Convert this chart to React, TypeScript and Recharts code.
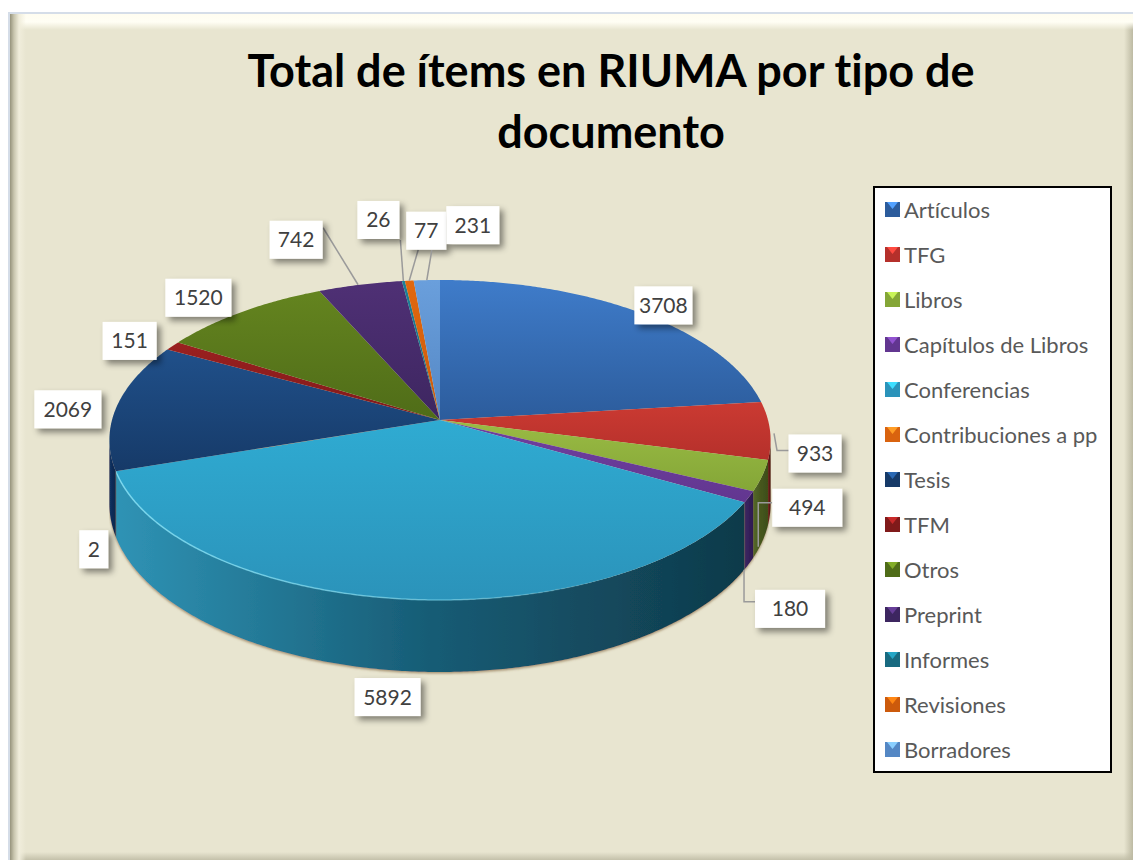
import { PieChart, Pie, Legend } from 'recharts';

const categories = ['Artículos', 'TFG', 'Libros', 'Capítulos de Libros', 'Conferencias', 'Contribuciones a pp', 'Tesis', 'TFM', 'Otros', 'Preprint', 'Informes', 'Revisiones', 'Borradores'];
const values = [3708, 933, 494, 180, 5892, 2, 2069, 151, 1520, 742, 26, 77, 231];

// top face gradient (back -> front), side wall gradient (left -> right)
const topLight = ['#3f7cca', '#cb3a32', '#9abb44', '#7040a0', '#2fabd2', '#e8791d', '#20508a', '#9a2020', '#64841f', '#4f3075', '#1c8098', '#e0680f', '#6a9fdc'];
const topDark = ['#2c5c9c', '#b5302b', '#84a637', '#623690', '#2b93ba', '#d9630f', '#163a68', '#801a1a', '#4f6c18', '#3d2660', '#186a80', '#cc5a0c', '#5487c4'];
const wallLight = ['#1d3d68', '#6e1d1a', '#55692a', '#3c2464', '#2f93b5', '#8a4410', '#133463', '#5a1212', '#3a4c10', '#2a1a44', '#10505f', '#8a4410', '#2f5a8c'];
const wallMid = ['#1d3d68', '#5e1916', '#46571e', '#35205a', '#175c75', '#8a4410', '#0f2c56', '#5a1212', '#3a4c10', '#2a1a44', '#10505f', '#8a4410', '#2f5a8c'];
const wallDark = ['#1d3d68', '#4e1512', '#3e4d18', '#2e1b50', '#0f3a4a', '#8a4410', '#0d2749', '#5a1212', '#3a4c10', '#2a1a44', '#10505f', '#8a4410', '#2f5a8c'];

// label box: offset of its centre from the slice's outer edge, and width
const labelDx = [24, 45, 45, 41, -16, -22, -49, -43, -44, -64, -25, 17, 46];
const labelDy = [-7, 23, 32, 112, 98, 78, 3, -5, -14, -45, -61, -50, -55];
const labelWidth = [58, 53, 70, 70, 66, 29, 67, 54, 66, 53, 42, 40, 53];

// leader lines, relative to the same edge point
const leaders: (number[][] | null)[] = [
  null,
  [[4, 3], [7, 20], [19, 20]],
  [[-4, 71], [-4, 27], [10, 27]],
  [[-5, 73], [-5, 105], [6, 105]],
  null,
  null,
  null,
  null,
  null,
  [[-2, 0], [-37, -57]],
  [[0, 0], [-3, -41]],
  [[0, 0], [9, -31]],
  [[0, 0], [5, -30]],
];

const data = categories.map((name, i) => ({ name, value: values[i], fill: topLight[i] }));

const FONT = 'Lato, sans-serif';
const K = 0.125; // perspective
const TILT = 157.5 / 328;
const DEPTH = 63;

// theta: degrees clockwise from the top of the pie
function project(cx: number, cy: number, r: number, theta: number) {
  const a = (theta * Math.PI) / 180;
  const u = Math.sin(a);
  const v = Math.cos(a);
  const w = 1 / (1 + K * v);
  return { x: cx + r * u * w, y: cy - r * TILT * v * w, w };
}

function arcPoints(cx: number, cy: number, r: number, from: number, to: number) {
  const n = Math.max(2, Math.ceil((to - from) * 2));
  const pts = [];
  for (let i = 0; i <= n; i++) pts.push(project(cx, cy, r, from + ((to - from) * i) / n));
  return pts;
}

const toPath = (pts: { x: number; y: number }[]) =>
  pts.map((p, i) => `${i ? 'L' : 'M'}${p.x.toFixed(2)} ${p.y.toFixed(2)}`).join(' ');

function Slice3D(props: any) {
  const { cx, cy, outerRadius, startAngle, endAngle, index } = props;
  const from = 90 - startAngle;
  const to = 90 - endAngle;
  const edge = arcPoints(cx, cy, outerRadius, from, to);
  const top = `M${cx} ${cy} ${toPath(edge).replace('M', 'L')} Z`;

  // only the front part of the rim has a visible wall
  const wallFrom = Math.max(from, 97.2);
  const wallTo = Math.min(to, 262.8);
  let wall = null;
  if (wallTo > wallFrom) {
    const upper = arcPoints(cx, cy, outerRadius, wallFrom, wallTo);
    const lower = upper.map(p => ({ x: p.x, y: p.y + DEPTH * p.w })).reverse();
    wall = <path d={`${toPath(upper)} ${toPath(lower).replace('M', 'L')} Z`} fill={`url(#wall${index})`} filter="url(#wallShadow)" />;
  }

  return (
    <g>
      {wall}
      <path d={top} fill={`url(#top${index})`} />
      {index === 4 && <path d={toPath(edge)} fill="none" stroke="url(#rim)" strokeWidth={1.5} />}
    </g>
  );
}

function renderLabel(props: any) {
  const { cx, cy, outerRadius, midAngle, index, value } = props;
  const p = project(cx, cy, outerRadius, 90 - midAngle);
  const bx = p.x + labelDx[index];
  const by = p.y + labelDy[index];
  const w = labelWidth[index];
  const line = leaders[index];
  return (
    <g key={index}>
      {line && (
        <polyline
          points={line.map(o => `${p.x + o[0]},${p.y + o[1]}`).join(' ')}
          fill="none"
          stroke="#9a9a9a"
          strokeWidth={1.5}
        />
      )}
      <rect x={bx - w / 2} y={by - 19} width={w} height={38} fill="#fff" filter="url(#boxShadow)" />
      <text x={bx} y={by + 7.5} textAnchor="middle" fontFamily={FONT} fontSize={21} fill="#404040">
        {value}
      </text>
    </g>
  );
}

function renderLegend() {
  return (
    <div style={{ boxSizing: 'border-box', width: 239, height: 587, background: '#fff', border: '2px solid #000' }}>
      {categories.map((name, i) => (
        <div key={name} style={{ position: 'absolute', left: 12, top: 23 + i * 45 - 15, height: 30, display: 'flex', alignItems: 'center' }}>
          <svg width={15} height={15} style={{ marginRight: 4, marginTop: 1 }}>
            <rect width={15} height={15} fill={topDark[i]} />
            <polygon points="2,0 13,0 7.5,7" fill={topLight[i]} style={{ filter: 'brightness(1.3)' }} />
          </svg>
          <span style={{ fontFamily: FONT, fontSize: 22, color: '#595959', whiteSpace: 'nowrap', fontVariantLigatures: 'none' }}>{name}</span>
        </div>
      ))}
    </div>
  );
}

export default function App() {
  return (
    <div style={{ position: 'absolute', left: 0, top: 0, width: 1133, height: 860, overflow: 'hidden', background: '#fff' }}>
      <div
        style={{
          position: 'absolute',
          left: 8,
          top: 12,
          width: 1125,
          height: 848,
          boxSizing: 'border-box',
          borderLeft: '2px solid #d5dde8',
          borderTop: '2px solid #d5dde8',
          background:
            'linear-gradient(to right, #96937c 0, #c8c5ae 4px, #f0eddb 9px, rgba(232,229,208,0) 16px),' +
            'linear-gradient(to bottom, #fffdf0 0, #fffef4 8px, rgba(232,229,208,0) 16px),' +
            'linear-gradient(to left, #bdbaa3 0, rgba(232,229,208,0) 9px),' +
            'linear-gradient(to top, #c4c1aa 0, rgba(232,229,208,0) 8px),' +
            '#e8e5d0',
        }}
      />
      <div style={{ position: 'absolute', left: 0, top: 0 }}>
        <PieChart width={1133} height={860} margin={{ top: 0, right: 0, bottom: 0, left: 0 }}>
          <defs>
            {categories.map((_, i) => (
              <linearGradient key={`t${i}`} id={`top${i}`} x1="0" y1="0" x2="0" y2="1">
                <stop offset="0" stopColor={topLight[i]} />
                <stop offset="1" stopColor={topDark[i]} />
              </linearGradient>
            ))}
            {categories.map((_, i) => (
              <linearGradient key={`w${i}`} id={`wall${i}`} x1="0" y1="0" x2="1" y2="0">
                <stop offset="0" stopColor={wallLight[i]} />
                <stop offset="0.5" stopColor={wallMid[i]} />
                <stop offset="1" stopColor={wallDark[i]} />
              </linearGradient>
            ))}
            <linearGradient id="rim" x1="0" y1="0" x2="1" y2="0">
              <stop offset="0" stopColor="#7fdcf2" stopOpacity={0.9} />
              <stop offset="0.55" stopColor="#7fdcf2" stopOpacity={0.5} />
              <stop offset="0.8" stopColor="#7fdcf2" stopOpacity={0} />
            </linearGradient>
            <filter id="boxShadow" x="-30%" y="-30%" width="170%" height="170%">
              <feDropShadow dx={4} dy={4} stdDeviation={3} floodColor="#000" floodOpacity={0.45} />
            </filter>
            <filter id="wallShadow" x="-5%" y="-5%" width="110%" height="115%">
              <feDropShadow dx={0} dy={1.5} stdDeviation={1.2} floodColor="#7a5a30" floodOpacity={0.6} />
            </filter>
          </defs>
          <text textAnchor="middle" fontFamily={FONT} fontWeight={700} fontSize={45} fill="#000" style={{ fontVariantLigatures: 'none' }}>
            <tspan x={611} y={87}>Total de ítems en RIUMA por tipo de</tspan>
            <tspan x={611} y={148}>documento</tspan>
          </text>
          <Pie
            data={data}
            dataKey="value"
            nameKey="name"
            cx={440}
            cy={420}
            innerRadius={0}
            outerRadius={328}
            startAngle={90}
            endAngle={-270}
            stroke="none"
            shape={Slice3D}
            label={renderLabel}
            labelLine={false}
            isAnimationActive={false}
          />
          <Legend
            content={renderLegend}
            layout="vertical"
            align="right"
            verticalAlign="top"
            wrapperStyle={{ position: 'absolute', left: 873, top: 186, width: 239, height: 587 }}
          />
        </PieChart>
      </div>
    </div>
  );
}
